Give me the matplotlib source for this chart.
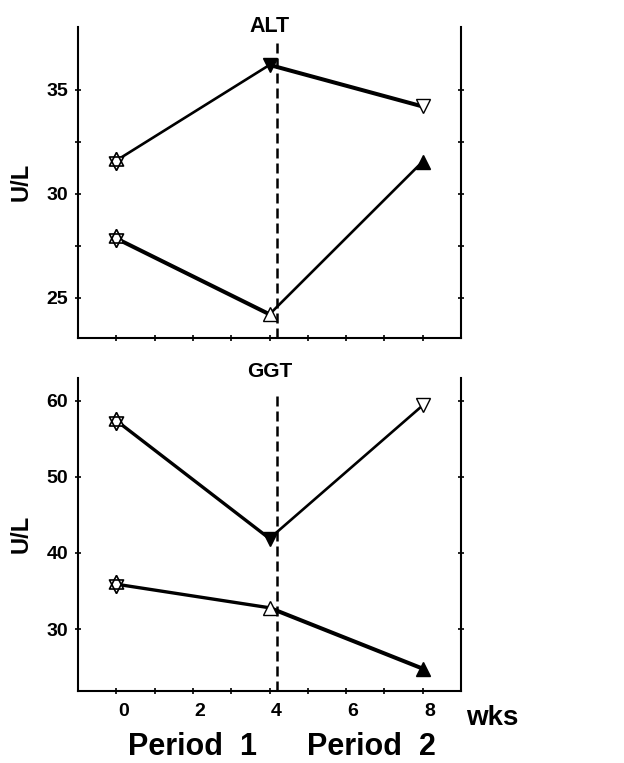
import matplotlib
matplotlib.use('Agg')
import matplotlib.pyplot as plt
import matplotlib.transforms as mtransforms

plt.rcParams['font.family'] = ['Liberation Sans', 'DejaVu Sans']
plt.rcParams['font.weight'] = 'bold'

# ---- data ----
weeks = [0, 4, 8]
switch_week = 4.2
alt_group_a = [31.6, 36.2, 34.2]
alt_group_b = [27.85, 24.2, 31.55]
ggt_group_a = [57.4, 41.9, 59.4]
ggt_group_b = [35.9, 32.8, 24.8]

x_ticks = [0, 1, 2, 3, 4, 5, 6, 7, 8]
x_tick_labels = ['0', '', '2', '', '4', '', '6', '', '8']
alt_yticks = [25, 27.5, 30, 32.5, 35]
alt_ytick_labels = ['25', '', '30', '', '35']
ggt_yticks = [30, 40, 50, 60]
ggt_ytick_labels = ['30', '40', '50', '60']

# marker shapes for the baseline "star of David" (two overlapping triangles)
tri_up = [(0, 1), (-0.78, -0.5), (0.78, -0.5), (0, 1)]
tri_down = [(0, -1), (-0.78, 0.5), (0.78, 0.5), (0, -1)]

fig = plt.figure(figsize=(6.24, 7.63), dpi=100)
W, H = 624, 763
ax1 = fig.add_axes([78 / W, 1 - 338 / H, 383 / W, (338 - 26.7) / H])
ax2 = fig.add_axes([78 / W, 1 - 690.7 / H, 383 / W, (690.7 - 378) / H])


def draw_group(ax, vals, p1_lw, p2_lw, kind):
    ax.plot(weeks[:2], vals[:2], color='black', lw=p1_lw, solid_capstyle='butt', zorder=2)
    ax.plot(weeks[1:], vals[1:], color='black', lw=p2_lw, solid_capstyle='butt', zorder=2)
    for m in [tri_up, tri_down]:
        ax.plot(weeks[0], vals[0], marker=m, ms=13, mfc='white', mec='white', mew=0,
                ls='none', zorder=3)
    for m in [tri_up, tri_down]:
        ax.plot(weeks[0], vals[0], marker=m, ms=13, mfc='none', mec='black', mew=1.2,
                ls='none', zorder=3.5)
    mk = 'v' if kind == 'a' else '^'
    if kind == 'a':
        ax.plot(weeks[1], vals[1], marker=mk, ms=10, mfc='black', mec='black', mew=1.0, ls='none', zorder=4)
        ax.plot(weeks[2], vals[2], marker=mk, ms=10, mfc='white', mec='black', mew=1.0, ls='none', zorder=4)
    else:
        ax.plot(weeks[1], vals[1], marker=mk, ms=10, mfc='white', mec='black', mew=1.0, ls='none', zorder=4)
        ax.plot(weeks[2], vals[2], marker=mk, ms=10, mfc='black', mec='black', mew=1.0, ls='none', zorder=4)


draw_group(ax1, alt_group_a, 1.9, 2.9, 'a')
draw_group(ax1, alt_group_b, 2.9, 1.9, 'b')
draw_group(ax2, ggt_group_a, 2.4, 1.9, 'a')
draw_group(ax2, ggt_group_b, 2.4, 2.9, 'b')

ax1.set_ylim(23.06, 38.04)
ax2.set_ylim(21.9, 63.0)

ax1.axvline(switch_week, ymin=0, ymax=0.964, color='black', lw=1.8, ls=(0, (4, 2)), zorder=1)
ax2.axvline(switch_week, ymin=0, ymax=0.956, color='black', lw=1.8, ls=(0, (4, 2)), zorder=1)

offset = mtransforms.ScaledTranslation(7 / 100, 0, fig.dpi_scale_trans)
for ax, yt, ytl in [(ax1, alt_yticks, alt_ytick_labels), (ax2, ggt_yticks, ggt_ytick_labels)]:
    ax.set_xlim(-1, 9)
    ax.spines['top'].set_visible(False)
    for s in ['left', 'right', 'bottom']:
        ax.spines[s].set_linewidth(1.5)
    ax.set_xticks(x_ticks)
    ax.set_yticks(yt)
    ax.set_yticklabels(ytl, fontsize=14, fontweight='bold')
    ax.tick_params(axis='y', direction='inout', length=5, width=1.2, pad=4.5,
                   right=True, left=True)
    ax.tick_params(axis='x', direction='inout', length=5, width=1.2, pad=6.5)
    ax.set_ylabel('U/L', fontsize=17, fontweight='bold', va='center')
    ax.yaxis.set_label_coords(-0.149, 0.5)

ax1.set_xticklabels([''] * len(x_ticks))
ax2.set_xticklabels(x_tick_labels, fontsize=14, fontweight='bold')
for lab in ax2.get_xticklabels():
    lab.set_transform(lab.get_transform() + offset)

ax1.text(0.5, 1.0, 'ALT', transform=ax1.transAxes, ha='center', va='center',
         fontsize=15.5, fontweight='bold')
ax2.text(0.5, 1.02, 'GGT', transform=ax2.transAxes, ha='center', va='center',
         fontsize=15, fontweight='bold')

fig.text(492 / W, 1 - 718 / H, 'wks', ha='center', va='center', fontsize=20, fontweight='bold')
fig.text(193 / W, 1 - 747 / H, 'Period  1', ha='center', va='center', fontsize=22, fontweight='bold')
fig.text(371 / W, 1 - 747 / H, 'Period  2', ha='center', va='center', fontsize=22, fontweight='bold')

fig.savefig('out.png', dpi=100, facecolor='white')
